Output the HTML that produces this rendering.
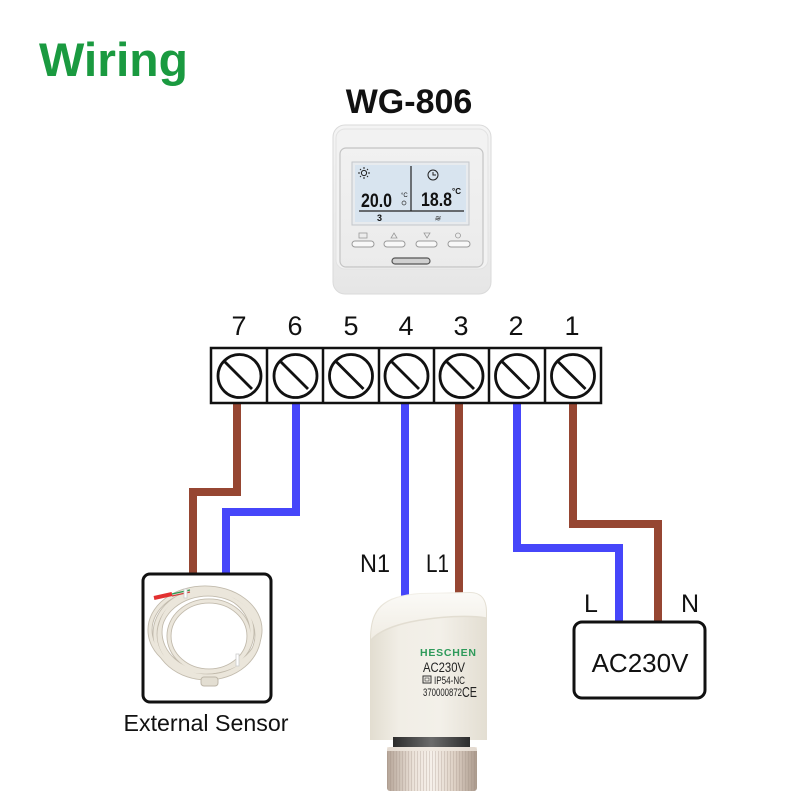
<!DOCTYPE html>
<html>
<head>
<meta charset="utf-8">
<style>
html,body{margin:0;padding:0;background:#fff;}
svg{display:block;}
text{font-family:"Liberation Sans",sans-serif;}
</style>
</head>
<body>
<svg width="800" height="800" viewBox="0 0 800 800" xmlns="http://www.w3.org/2000/svg">
<defs>
  <linearGradient id="frameG" x1="0" y1="0" x2="0" y2="1">
    <stop offset="0" stop-color="#f4f4f4"/>
    <stop offset="1" stop-color="#e6e6e6"/>
  </linearGradient>
  <linearGradient id="panelG" x1="0" y1="0" x2="0" y2="1">
    <stop offset="0" stop-color="#f1f1f1"/>
    <stop offset="1" stop-color="#ebebeb"/>
  </linearGradient>
  <linearGradient id="bodyG" x1="0" y1="0" x2="1" y2="0">
    <stop offset="0" stop-color="#e2ddd0"/>
    <stop offset="0.25" stop-color="#f1eee6"/>
    <stop offset="0.6" stop-color="#f3f0e9"/>
    <stop offset="1" stop-color="#e3ded2"/>
  </linearGradient>
  <linearGradient id="topG" x1="0" y1="0" x2="0" y2="1">
    <stop offset="0" stop-color="#fbfaf7"/>
    <stop offset="1" stop-color="#f0ece3"/>
  </linearGradient>
  <linearGradient id="nutG" x1="0" y1="0" x2="1" y2="0">
    <stop offset="0" stop-color="#b5a497"/>
    <stop offset="0.3" stop-color="#ece3da"/>
    <stop offset="0.5" stop-color="#f6f0ea"/>
    <stop offset="0.75" stop-color="#ddd0c4"/>
    <stop offset="1" stop-color="#ab9a8d"/>
  </linearGradient>
  <linearGradient id="ringG" x1="0" y1="0" x2="1" y2="0">
    <stop offset="0" stop-color="#2c2c2c"/>
    <stop offset="0.5" stop-color="#6b6b6b"/>
    <stop offset="1" stop-color="#2c2c2c"/>
  </linearGradient>
  <pattern id="knurl" width="3" height="10" patternUnits="userSpaceOnUse">
    <rect width="3" height="10" fill="none"/>
    <line x1="0.5" y1="0" x2="0.5" y2="10" stroke="#9a8a7e" stroke-width="0.7" opacity="0.4"/>
  </pattern>
</defs>

<!-- Titles -->
<text x="39" y="76" font-size="47" font-weight="bold" fill="#1a9a40" textLength="149" lengthAdjust="spacingAndGlyphs">Wiring</text>
<text x="409" y="113" font-size="34" font-weight="bold" fill="#111" text-anchor="middle">WG-806</text>

<!-- Thermostat -->
<rect x="333" y="125" width="158" height="169" rx="12" fill="url(#frameG)" stroke="#dadada" stroke-width="1"/>
<rect x="336" y="129" width="152" height="140" rx="9" fill="#f2f2f2" stroke="#e2e2e2"/>
<rect x="340" y="148" width="143" height="119" rx="6" fill="url(#panelG)" stroke="#c4c4c4" stroke-width="1.2"/>
<rect x="352" y="162" width="117" height="63" fill="#e8ebee" stroke="#c2c6ca" stroke-width="1"/>
<rect x="355" y="165" width="111" height="57" fill="#d8e4ef"/>
<line x1="411" y1="166" x2="411" y2="211" stroke="#222" stroke-width="1.2"/>
<line x1="359" y1="211" x2="464" y2="211" stroke="#222" stroke-width="1.2"/>
<!-- sun -->
<circle cx="364" cy="173" r="2.6" fill="none" stroke="#222" stroke-width="1"/>
<g stroke="#222" stroke-width="1">
  <line x1="364" y1="167" x2="364" y2="169"/><line x1="364" y1="177" x2="364" y2="179"/>
  <line x1="358" y1="173" x2="360" y2="173"/><line x1="368" y1="173" x2="370" y2="173"/>
  <line x1="360" y1="169" x2="361" y2="170"/><line x1="367" y1="176" x2="368" y2="177"/>
  <line x1="368" y1="169" x2="367" y2="170"/><line x1="360" y1="177" x2="361" y2="176"/>
</g>
<!-- clock -->
<circle cx="433" cy="175" r="5" fill="none" stroke="#222" stroke-width="1"/>
<polyline points="433,172 433,175 436,175" fill="none" stroke="#222" stroke-width="1"/>
<text x="361" y="207" font-size="19" font-weight="bold" fill="#111" textLength="31" lengthAdjust="spacingAndGlyphs">20.0</text>
<text x="401" y="197" font-size="6" fill="#111">°C</text>
<circle cx="404" cy="203" r="2" fill="none" stroke="#333" stroke-width="0.7"/>
<text x="421" y="206" font-size="19" font-weight="bold" fill="#111" textLength="31" lengthAdjust="spacingAndGlyphs">18.8</text>
<text x="452" y="194" font-size="8" font-weight="bold" fill="#111">°C</text>
<text x="377" y="221" font-size="9" font-weight="bold" fill="#111">3</text>
<text x="434" y="221" font-size="8" font-style="italic" fill="#333">≋</text>
<!-- button icons -->
<rect x="359" y="233" width="8" height="5" fill="none" stroke="#999" stroke-width="0.8"/>
<polygon points="394,233 397,238 391,238" fill="none" stroke="#999" stroke-width="0.8"/>
<polygon points="424,233 430,233 427,238" fill="none" stroke="#999" stroke-width="0.8"/>
<circle cx="458" cy="235.5" r="2.5" fill="none" stroke="#999" stroke-width="0.8"/>
<!-- buttons -->
<rect x="352" y="241" width="22" height="6" rx="3" fill="#f8f8f8" stroke="#9a9a9a" stroke-width="1"/>
<rect x="384" y="241" width="21" height="6" rx="3" fill="#f8f8f8" stroke="#9a9a9a" stroke-width="1"/>
<rect x="416" y="241" width="21" height="6" rx="3" fill="#f8f8f8" stroke="#9a9a9a" stroke-width="1"/>
<rect x="448" y="241" width="22" height="6" rx="3" fill="#f8f8f8" stroke="#9a9a9a" stroke-width="1"/>
<rect x="392" y="258" width="38" height="6" rx="3" fill="#d0d0d0" stroke="#555" stroke-width="1.2"/>

<!-- Terminal numbers -->
<g font-size="27" fill="#111" text-anchor="middle">
  <text x="239" y="335">7</text>
  <text x="295" y="335">6</text>
  <text x="351" y="335">5</text>
  <text x="406" y="335">4</text>
  <text x="461" y="335">3</text>
  <text x="516" y="335">2</text>
  <text x="572" y="335">1</text>
</g>

<!-- Wires -->
<g fill="none" stroke-width="8" stroke-linejoin="miter">
  <polyline points="237,403 237,492 193,492 193,575" stroke="#964632"/>
  <polyline points="296,403 296,512 226,512 226,575" stroke="#4646fa"/>
  <polyline points="405,403 405,597" stroke="#4646fa"/>
  <polyline points="459,403 459,593" stroke="#964632"/>
  <polyline points="517,403 517,548 619,548 619,623" stroke="#4646fa"/>
  <polyline points="573,403 573,524 658,524 658,623" stroke="#964632"/>
</g>

<!-- Terminal block -->
<rect x="211" y="348" width="390" height="55" fill="#fff" stroke="#111" stroke-width="2.5"/>
<g stroke="#111" stroke-width="2.5">
  <line x1="267" y1="348" x2="267" y2="403"/>
  <line x1="323" y1="348" x2="323" y2="403"/>
  <line x1="379" y1="348" x2="379" y2="403"/>
  <line x1="434" y1="348" x2="434" y2="403"/>
  <line x1="489" y1="348" x2="489" y2="403"/>
  <line x1="545" y1="348" x2="545" y2="403"/>
</g>
<g fill="none" stroke="#111" stroke-width="2.8">
  <circle cx="239.5" cy="376" r="21.5"/><line x1="224" y1="361" x2="252" y2="389"/>
  <circle cx="295.5" cy="376" r="21.5"/><line x1="280" y1="361" x2="308" y2="389"/>
  <circle cx="351" cy="376" r="21.5"/><line x1="335.5" y1="361" x2="363.5" y2="389"/>
  <circle cx="406.5" cy="376" r="21.5"/><line x1="391" y1="361" x2="419" y2="389"/>
  <circle cx="461.5" cy="376" r="21.5"/><line x1="446" y1="361" x2="474" y2="389"/>
  <circle cx="517" cy="376" r="21.5"/><line x1="501.5" y1="361" x2="529.5" y2="389"/>
  <circle cx="573" cy="376" r="21.5"/><line x1="557.5" y1="361" x2="585.5" y2="389"/>
</g>

<!-- External sensor box -->
<rect x="143" y="574" width="128" height="128" rx="7" fill="#fff" stroke="#111" stroke-width="3"/>
<g fill="none">
  <g stroke="#c2bbad" stroke-width="5">
    <ellipse cx="207" cy="634" rx="52" ry="44"/>
    <ellipse cx="206" cy="632" rx="46" ry="40"/>
    <ellipse cx="209" cy="636" rx="40" ry="35"/>
    <ellipse cx="205" cy="630" rx="55" ry="42"/>
    <ellipse cx="208" cy="635" rx="49" ry="41"/>
  </g>
  <g stroke="#ebe6db" stroke-width="3.2">
    <ellipse cx="207" cy="634" rx="52" ry="44"/>
    <ellipse cx="206" cy="632" rx="46" ry="40"/>
    <ellipse cx="209" cy="636" rx="40" ry="35"/>
    <ellipse cx="205" cy="630" rx="55" ry="42"/>
    <ellipse cx="208" cy="635" rx="49" ry="41"/>
  </g>
</g>
<line x1="154" y1="598" x2="172" y2="594" stroke="#e23030" stroke-width="4"/>
<line x1="172" y1="594" x2="190" y2="590" stroke="#2a9a50" stroke-width="1.2"/>
<line x1="172" y1="596" x2="190" y2="592" stroke="#d04040" stroke-width="1.2"/>
<rect x="184" y="589" width="3" height="9" fill="#fff" stroke="#ccc" stroke-width="0.8"/>
<rect x="236" y="654" width="3" height="12" fill="#fff" stroke="#ccc" stroke-width="0.8"/>
<rect x="201" y="677" width="17" height="9" rx="3" fill="#e3ded2" stroke="#bdb6a8" stroke-width="1"/>
<text x="206" y="731" font-size="23" fill="#111" text-anchor="middle" textLength="165" lengthAdjust="spacingAndGlyphs">External Sensor</text>

<!-- N1 / L1 labels -->
<text x="360" y="572" font-size="25" fill="#111" textLength="30" lengthAdjust="spacingAndGlyphs">N1</text>
<text x="426" y="572" font-size="25" fill="#111" textLength="23" lengthAdjust="spacingAndGlyphs">L1</text>

<!-- Actuator -->
<path d="M370,740 L370,640 C370,608 382,596 420,593 L470,592 C482,592 487,600 487,612 L487,740 Z" fill="url(#bodyG)"/>
<path d="M371,640 C371,610 382,597 420,594 L470,593 C482,593 486,601 486,612 L486,618 C470,615 440,616 410,622 C392,626 378,632 371,640 Z" fill="url(#topG)"/>
<path d="M371,640 C378,632 392,626 410,622 C440,616 470,615 486,618" fill="none" stroke="#e2ddd1" stroke-width="1.5"/>
<rect x="393" y="737" width="77" height="12" fill="url(#ringG)"/>
<rect x="387" y="747" width="90" height="44" rx="3" fill="url(#nutG)"/>
<rect x="387" y="751" width="90" height="40" rx="3" fill="url(#knurl)"/>
<rect x="387" y="747" width="90" height="4" fill="#efe7de" opacity="0.8"/>
<text x="420" y="656" font-size="10.5" font-weight="bold" fill="#2e9a5a" textLength="56" lengthAdjust="spacing">HESCHEN</text>
<text x="423" y="672" font-size="13.5" fill="#222" textLength="42" lengthAdjust="spacingAndGlyphs">AC230V</text>
<rect x="423" y="676" width="8" height="7" fill="none" stroke="#333" stroke-width="1"/>
<rect x="425" y="678" width="4" height="3" fill="none" stroke="#333" stroke-width="0.6"/>
<text x="434" y="684" font-size="11" fill="#222" textLength="31" lengthAdjust="spacingAndGlyphs">IP54-NC</text>
<text x="423" y="696" font-size="11" fill="#222" textLength="39" lengthAdjust="spacingAndGlyphs">370000872</text>
<text x="462" y="697" font-size="15" fill="#222" textLength="15" lengthAdjust="spacingAndGlyphs">CE</text>

<!-- AC230V box -->
<text x="584" y="612" font-size="25" fill="#111">L</text>
<text x="681" y="612" font-size="25" fill="#111">N</text>
<rect x="574" y="622" width="131" height="76" rx="8" fill="#fff" stroke="#111" stroke-width="3"/>
<text x="640" y="672" font-size="26" fill="#111" text-anchor="middle">AC230V</text>
</svg>
</body>
</html>
